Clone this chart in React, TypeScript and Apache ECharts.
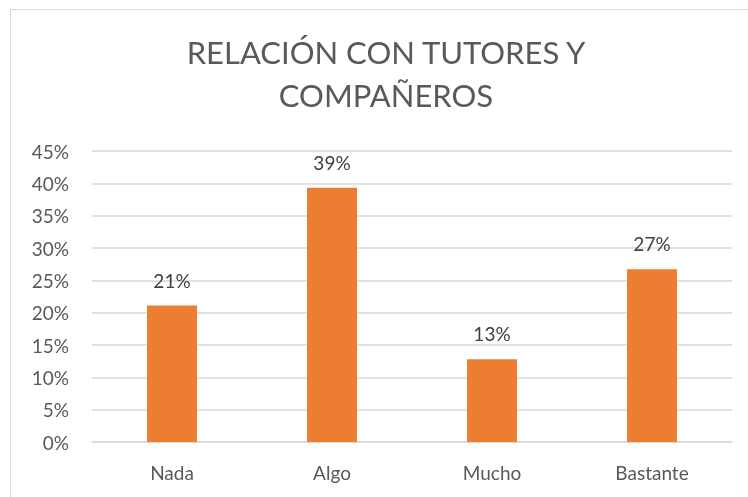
import React, { useEffect, useRef } from "react";
import * as echarts from "echarts";

const categories = ["Nada", "Algo", "Mucho", "Bastante"];
const values = [21.1, 39.3, 12.8, 26.7];
const titleLines = ["RELACIÓN CON TUTORES Y", "COMPAÑEROS"];

export default function App() {
  const ref = useRef<HTMLDivElement>(null);
  useEffect(() => {
    if (!ref.current) return;
    const chart = echarts.init(ref.current, undefined, { renderer: "svg" });
    const font = "Lato, 'Open Sans', sans-serif";
    chart.setOption({
      animation: false,
      graphic: titleLines.map((t, i) => ({
        type: "text",
        x: 386,
        y: 52 + i * 43,
        style: {
          text: t,
          fontFamily: font,
          fontSize: 31,
          fill: "#595959",
          align: "center",
          verticalAlign: "middle",
        },
      })),
      grid: { left: 92, right: 16, top: 151, bottom: 55, containLabel: false },
      xAxis: {
        type: "category",
        data: categories,
        axisLine: { lineStyle: { color: "#d9d9d9", width: 1.5 } },
        axisTick: { show: false },
        axisLabel: { color: "#595959", fontSize: 19, fontFamily: font, margin: 21 },
      },
      yAxis: {
        type: "value",
        min: 0,
        max: 45,
        interval: 5,
        axisLine: { show: false },
        axisTick: { show: false },
        splitLine: { lineStyle: { color: "#d9d9d9", width: 1.5 } },
        axisLabel: {
          color: "#595959",
          fontSize: 19,
          fontFamily: font,
          margin: 23,
          formatter: (v: number) => v + "%",
        },
      },
      series: [
        {
          type: "bar",
          data: values,
          barWidth: 50,
          itemStyle: { color: "#ED7D31" },
          label: {
            show: true,
            position: "top",
            distance: 16,
            color: "#404040",
            fontSize: 19,
            fontFamily: font,
            formatter: (p: any) => Math.round(p.value) + "%",
          },
        },
      ],
    });
    return () => chart.dispose();
  }, []);
  return (
    <>
      <div
        style={{
          position: "fixed",
          left: 10,
          top: 9,
          width: 800,
          height: 600,
          border: "1.5px solid #d9d9d9",
          boxSizing: "border-box",
        }}
      />
      <div
        ref={ref}
        style={{ position: "fixed", left: 0, top: 0, width: 748, height: 497 }}
      />
    </>
  );
}
